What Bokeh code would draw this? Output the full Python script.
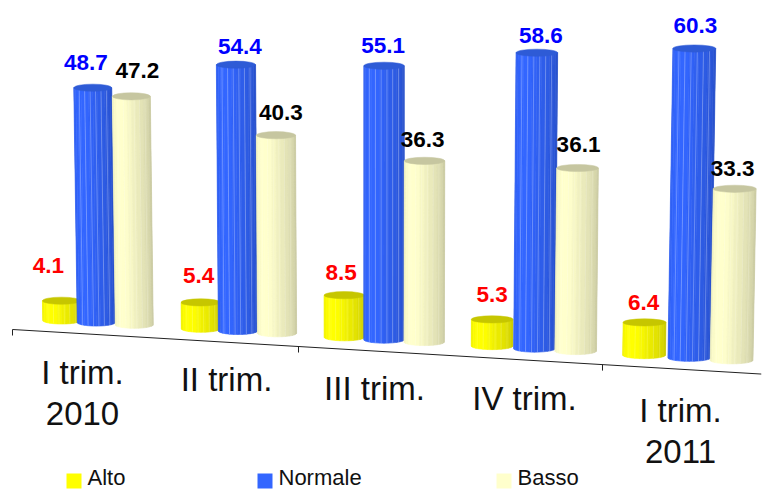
import math

from bokeh.core.properties import value
from bokeh.embed import file_html
from bokeh.models import Range1d
from bokeh.plotting import figure
from bokeh.resources import INLINE

# Survey shares per quarter
quarters = ["I trim.\n2010", "II trim.", "III trim.", "IV trim.", "I trim.\n2011"]
alto = [4.1, 5.4, 8.5, 5.3, 6.4]
normale = [48.7, 54.4, 55.1, 58.6, 60.3]
basso = [47.2, 40.3, 36.3, 36.1, 33.3]
series_names = ["Alto", "Normale", "Basso"]

# Series styling: side colour, top colour, label colour
SIDE = [(255, 255, 0), (51, 102, 255), (255, 255, 204)]
TOP = ["#C6C600", "#2E5BD6", "#C6C6A0"]
LABEL = ["#FF0000", "#0000FF", "#000000"]
SWATCH = ["#FFFF00", "#3366FF", "#FFFFCC"]

FONT = value("Liberation Sans")


# Perspective floor: the category axis runs downhill and widens to the right
def edge_x(i):
    return 12 + 138.5 * i + 2.25 * i * i


def floor_y(x):
    return 329 + 0.0595 * (x - 12)


def unit_px(x):
    return 4.82 + 0.00052 * (x - 96)


# Position of a series within its category band
BAND_START = [0.35, 0.595, 0.865]
BAND_DRIFT = [0.022, 0.012, 0.013]
BAND_BAR = 0.27
SPLAY = 5.2e-5
VANISH_X = 380

# Hand-placed label offsets from each cylinder's top, series by series
LABEL_DX = [[-13, -2, -3, 0, -1], [-7, 4, -1, 4, 1], [6, 5, -2, 1, -2]]
LABEL_DY = [[-35, -27, -23, -25, -20], [-25, -18, -20, -17, -23], [-26, -23, -21, -24, -20]]

CATEGORY_ANCHORS = [(82, 372), (226, 379), (374, 388), (524, 398), (680, 410)]
LINE_GAP = 41

p = figure(
    width=771,
    height=490,
    x_range=Range1d(0, 771),
    y_range=Range1d(490, 0),
    output_backend="svg",
    toolbar_location=None,
    min_border=0,
    outline_line_color=None,
    background_fill_color="white",
    border_fill_color="white",
)
p.axis.visible = False
p.grid.visible = False

# Category axis and its ticks on every second band boundary
ax0, ax1 = edge_x(0), edge_x(5)
p.line([ax0, ax1], [floor_y(ax0), floor_y(ax1)], line_color="#222222", line_width=1)
for i in (0, 2, 4):
    x = edge_x(i)
    p.line([x, x], [floor_y(x), floor_y(x) + 6], line_color="#222222", line_width=1)


def shade(rgb, t):
    # Cylinder lighting: brightest left of centre, falling away to the right
    f = 0.93 + 0.07 * t / 0.22 if t < 0.22 else 1.0 - 0.22 * max(0, t - 0.38) / 0.62
    return "#%02x%02x%02x" % tuple(int(min(255, ch * f)) for ch in rgb)


def cylinder(cx, base_y, val, s, width):
    rgb = SIDE[s]
    height = val * unit_px(cx)
    top_x = cx + (cx - VANISH_X) * height * SPLAY
    top_y = base_y - height
    top_w = width
    ry = 3.6
    n = 14
    xs, ys, colors = [], [], []
    for k in range(n):
        a0 = math.pi * (1 - k / n)
        a1 = math.pi * (1 - (k + 1) / n)
        u0, u1 = math.cos(a0), math.cos(a1)
        xs.append([
            top_x + u0 * top_w / 2,
            top_x + u1 * top_w / 2,
            cx + u1 * width / 2,
            cx + u0 * width / 2,
        ])
        ys.append([top_y, top_y, base_y + ry * math.sin(a1), base_y + ry * math.sin(a0)])
        colors.append(shade(rgb, (k + 0.5) / n))
    p.patches(xs, ys, fill_color=colors, line_color=colors, line_width=0.6)

    # Facet edges: pale vertical hairlines along the curved side
    facets = 7
    for k in range(1, facets):
        u = -1 + 2 * k / facets
        p.line([top_x + u * top_w / 2, cx + u * width / 2],
               [top_y, base_y + ry * math.sqrt(1 - u * u)],
               line_color="#FFFFFF", line_alpha=0.28 if s == 1 else 0.16, line_width=1)

    p.ellipse([top_x], [top_y], width=top_w, height=2 * ry,
              fill_color=TOP[s], line_color=TOP[s], line_width=0.5)
    return top_x, top_y


tops = [[None] * len(quarters) for _ in series_names]
for g in range(len(quarters)):
    band = edge_x(g + 1) - edge_x(g)
    for s, series in enumerate((alto, normale, basso)):
        cx = edge_x(g) + band * (BAND_START[s] - BAND_DRIFT[s] * g)
        base = floor_y(cx) - 12
        tops[s][g] = cylinder(cx, base, series[g], s, band * BAND_BAR)

# Value labels
for s, series in enumerate((alto, normale, basso)):
    for g, val in enumerate(series):
        tx, ty = tops[s][g]
        p.text([tx + LABEL_DX[s][g]], [ty + LABEL_DY[s][g]], text=[f"{val:.1f}"],
               text_font=FONT, text_font_style="bold", text_font_size="22.5px",
               text_color=LABEL[s], text_align="center", text_baseline="middle")

# Category labels
for (ax, ay), name in zip(CATEGORY_ANCHORS, quarters):
    for ln, part in enumerate(name.split("\n")):
        p.text([ax], [ay + ln * LINE_GAP], text=[part], text_font=FONT,
               text_font_size="33px", text_color="#111111",
               text_align="center", text_baseline="middle")

# Legend
LEGEND_X = [66, 257, 496]
for lx, name, col in zip(LEGEND_X, series_names, SWATCH):
    p.quad(left=[lx], right=[lx + 15], top=[473], bottom=[488], fill_color=col, line_color=None)
    p.text([lx + 21], [477], text=[name], text_font=FONT, text_font_size="22px",
           text_color="#111111", text_align="left", text_baseline="middle")

open("out.html", "w").write(file_html(p, INLINE))
